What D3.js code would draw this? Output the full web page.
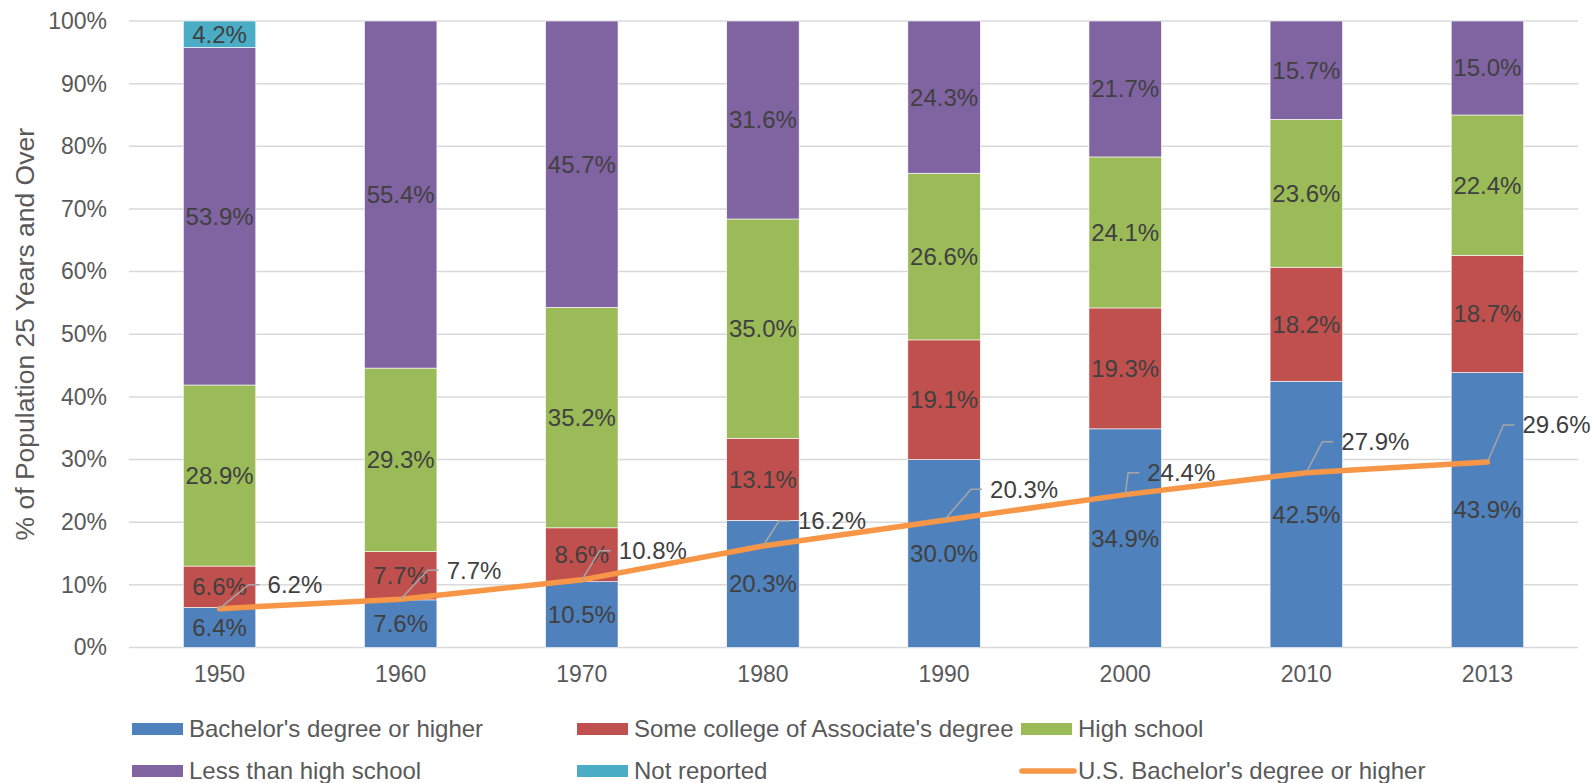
<!DOCTYPE html>
<html>
<head>
<meta charset="utf-8">
<script src="https://cdn.jsdelivr.net/npm/d3@7"></script>
<style>
    body { margin: 0; background: #fff; }
    svg { font-family: "Liberation Sans", Arial, sans-serif; }
</style>
</head>
<body>
<svg id="chart"></svg>
<script>
// chart values
var years = ["1950", "1960", "1970", "1980", "1990", "2000", "2010", "2013"];
var bachelors = [6.4, 7.6, 10.5, 20.3, 30.0, 34.9, 42.5, 43.9];
var someCollege = [6.6, 7.7, 8.6, 13.1, 19.1, 19.3, 18.2, 18.7];
var highSchool = [28.9, 29.3, 35.2, 35.0, 26.6, 24.1, 23.6, 22.4];
var lessThanHS = [53.9, 55.4, 45.7, 31.6, 24.3, 21.7, 15.7, 15.0];
var notReported = [4.2, 0, 0, 0, 0, 0, 0, 0];
var usBachelors = [6.2, 7.7, 10.8, 16.2, 20.3, 24.4, 27.9, 29.6];
var yTicks = [0, 10, 20, 30, 40, 50, 60, 70, 80, 90, 100];

var seriesNames = ["Bachelor's degree or higher", "Some college of Associate's degree",
    "High school", "Less than high school", "Not reported"];
var lineName = "U.S. Bachelor's degree or higher";
var colors = ["#4F81BD", "#C0504D", "#9BBB59", "#8064A2", "#4BACC6"];
var lineColor = "#F79646";

// where each line label was dragged to (diagonal dx, rise)
var leaderOffsets = [[29, 24], [27, 29], [18, 29], [16, 25], [27, 31], [3, 22], [16, 31], [16, 37]];

var size = {
    width: 1591,
    height: 783,
    top: 21,
    bottom: 135.5,
    left: 129,
    right: 13
};

var svg = d3.select("#chart")
    .attr("width", size.width)
    .attr("height", size.height);

var x = d3.scaleBand()
    .domain(years)
    .range([size.left, size.width - size.right])
    .paddingInner(0.6)
    .paddingOuter(0.3);

var y = d3.scaleLinear()
    .domain([0, 100])
    .range([size.height - size.bottom, size.top]);

// gridlines
svg.append("g")
    .selectAll("line")
    .data(yTicks)
    .enter()
    .append("line")
    .attr("x1", size.left)
    .attr("x2", size.width - size.right)
    .attr("y1", d => y(d))
    .attr("y2", d => y(d))
    .attr("stroke", "#D9D9D9")
    .attr("stroke-width", 1.5);

// y axis labels
var yAxis = d3.axisLeft(y)
    .tickValues(yTicks)
    .tickFormat(d => d + "%")
    .tickSize(0)
    .tickPadding(22);
var yg = svg.append("g")
    .attr("transform", "translate(" + size.left + ",0)")
    .call(yAxis);
yg.select(".domain").remove();
yg.selectAll("text")
    .style("font-size", "23px")
    .attr("fill", "#595959");

// x axis labels
var xAxis = d3.axisBottom(x).tickSize(0).tickPadding(18);
var xg = svg.append("g")
    .attr("transform", "translate(0," + y(0) + ")")
    .call(xAxis);
xg.select(".domain").remove();
xg.selectAll("text")
    .style("font-size", "23px")
    .attr("fill", "#595959");

// y title
svg.append("text")
    .attr("transform", "translate(34," + ((y(0) + y(100)) / 2) + ") rotate(-90)")
    .attr("text-anchor", "middle")
    .style("font-size", "26.5px")
    .attr("fill", "#595959")
    .text("% of Population 25 Years and Over");

// stacked bars
var rows = years.map(function(yr, i) {
    return {
        year: yr,
        s0: bachelors[i],
        s1: someCollege[i],
        s2: highSchool[i],
        s3: lessThanHS[i],
        s4: notReported[i]
    };
});
var stack = d3.stack().keys(["s0", "s1", "s2", "s3", "s4"]);
var stacked = stack(rows);

var layers = svg.selectAll(".layer")
    .data(stacked)
    .enter()
    .append("g")
    .attr("class", "layer")
    .attr("fill", (d, i) => colors[i]);

layers.selectAll("rect")
    .data(d => d.filter(p => p[1] - p[0] > 0))
    .enter()
    .append("rect")
    .attr("x", d => x(d.data.year))
    .attr("width", x.bandwidth())
    .attr("y", d => y(d[1]))
    .attr("height", d => y(d[0]) - y(d[1]))
    .attr("stroke", "#ffffff")
    .attr("stroke-width", 0.6);

layers.selectAll("text")
    .data(d => d.filter(p => p[1] - p[0] > 0))
    .enter()
    .append("text")
    .attr("x", d => x(d.data.year) + x.bandwidth() / 2)
    .attr("y", d => (y(d[0]) + y(d[1])) / 2)
    .attr("text-anchor", "middle")
    .attr("dy", "0.35em")
    .style("font-size", "24px")
    .attr("fill", "#404040")
    .text(d => (d[1] - d[0]).toFixed(1) + "%");

// US line
var line = d3.line()
    .x((d, i) => x(years[i]) + x.bandwidth() / 2)
    .y(d => y(d));

svg.append("path")
    .datum(usBachelors)
    .attr("d", line)
    .attr("fill", "none")
    .attr("stroke", lineColor)
    .attr("stroke-width", 5.5)
    .attr("stroke-linejoin", "round")
    .attr("stroke-linecap", "round");

// line labels with leaders
var lbl = svg.append("g");
usBachelors.forEach(function(v, i) {
    var px = x(years[i]) + x.bandwidth() / 2;
    var py = y(v);
    var off = leaderOffsets[i];
    lbl.append("polyline")
        .attr("points", [[px, py], [px + off[0], py - off[1]], [px + off[0] + 11, py - off[1]]].join(" "))
        .attr("fill", "none")
        .attr("stroke", "#A6A6A6")
        .attr("stroke-width", 1.5);
    lbl.append("text")
        .attr("x", px + off[0] + 19)
        .attr("y", py - off[1])
        .attr("dy", "0.35em")
        .style("font-size", "24px")
        .attr("fill", "#404040")
        .text(v.toFixed(1) + "%");
});

// legend
var legendCols = [132, 577, 1021];
var legendRows = [729, 771];
var legendItems = seriesNames.map((n, i) => ({ name: n, color: colors[i], kind: "rect" }));
legendItems.push({ name: lineName, color: lineColor, kind: "line" });

var legend = svg.selectAll(".legend")
    .data(legendItems)
    .enter()
    .append("g")
    .attr("class", "legend")
    .attr("transform", (d, i) => "translate(" + legendCols[i % 3] + "," + legendRows[Math.floor(i / 3)] + ")");

legend.filter(d => d.kind === "rect")
    .append("rect")
    .attr("x", 0)
    .attr("y", -6)
    .attr("width", 51)
    .attr("height", 12)
    .attr("fill", d => d.color);

legend.filter(d => d.kind === "line")
    .append("line")
    .attr("x1", 1)
    .attr("x2", 53)
    .attr("y1", 0)
    .attr("y2", 0)
    .attr("stroke", d => d.color)
    .attr("stroke-width", 5.5)
    .attr("stroke-linecap", "round");

legend.append("text")
    .attr("x", 57)
    .attr("y", 0)
    .attr("dy", "0.35em")
    .style("font-size", "24px")
    .attr("fill", "#595959")
    .text(d => d.name);
</script>
</body>
</html>
